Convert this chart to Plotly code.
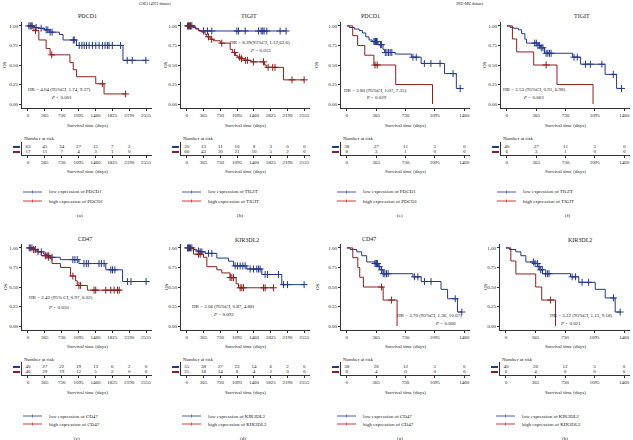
import plotly.graph_objects as go

W, H = 633, 440
FONT = "Liberation Serif"
BLUE = "#24388c"
RED = "#8e1e1e"
LEG_BLUE = "#4c5db0"
LEG_RED = "#d23a3a"
AXC = "#333333"

TIMES_GSE = [0, 365, 730, 1095, 1460, 1825, 2190, 2555]
TIMES_JNU = [0, 365, 730, 1095, 1460]

# (a) PDCD1 - GSE114922
A_LOW_T = [0, 143, 215, 358, 465, 680, 760, 1050, 2055]
A_LOW_S = [1.0, 0.98, 0.97, 0.95, 0.92, 0.89, 0.82, 0.75, 0.56]
A_LOW_C = [21, 50, 72, 93, 179, 286, 394, 430, 480, 523, 981, 1002, 1110, 1167, 1217, 1267,
           1324, 1396, 1467, 1539, 1611, 1668, 1718, 1754, 1825, 2004, 2147, 2255, 2550]
A_HIGH_T = [0, 130, 236, 394, 480, 909, 980, 1052, 1467, 1646]
A_HIGH_S = [1.0, 0.94, 0.82, 0.71, 0.63, 0.53, 0.44, 0.35, 0.26, 0.13]
A_HIGH_C = [165, 515, 1610, 2112]
A_RISK_LOW = [63, 45, 34, 27, 15, 7, 2, None]
A_RISK_HIGH = [17, 11, 7, 4, 3, 1, 0, None]

# (b) TIGIT - GSE114922
B_LOW_T = [0, 180, 260]
B_LOW_S = [1.0, 0.965, 0.935]
B_LOW_C = [15, 36, 58, 87, 109, 363, 450, 544, 1089, 1125, 1270, 1560, 1618, 1654, 1683, 1742, 2032, 2162]
B_HIGH_T = [0, 130, 203, 254, 327, 399, 435, 508, 580, 726, 943, 1000, 1060, 1110, 1170, 1250, 1400, 1690, 1730, 2104]
B_HIGH_S = [1.0, 0.98, 0.96, 0.94, 0.92, 0.89, 0.86, 0.83, 0.81, 0.78, 0.70, 0.66, 0.62, 0.60, 0.58, 0.56, 0.54, 0.50, 0.47, 0.31]
B_HIGH_C = [40, 80, 470, 540, 760, 1040, 1150, 1190, 1280, 1320, 1450, 1670, 1770, 1870, 1920, 2290, 2555]
B_RISK_LOW = [20, 13, 11, 10, 8, 3, 0, 0]
B_RISK_HIGH = [60, 43, 30, 21, 10, 5, 2, 0]

# (e) PDCD1 - JNU
E_LOW_T = [0, 32, 93, 154, 195, 235, 276, 316, 389, 450, 470, 600, 803, 925, 1216, 1363]
E_LOW_S = [1.0, 0.98, 0.96, 0.94, 0.91, 0.86, 0.82, 0.80, 0.76, 0.70, 0.66, 0.64, 0.60, 0.52, 0.39, 0.20]
E_LOW_C = [337, 349, 357, 369, 377, 418, 430, 478, 499, 519, 539, 560, 823, 864, 965, 1046, 1160, 1322, 1411]
E_HIGH_T = [0, 73, 134, 223, 337, 608, 1066]
E_HIGH_S = [1.0, 0.875, 0.75, 0.625, 0.5, 0.25, 0.0]
E_HIGH_C = [350, 377]
E_RISK_LOW = [38, 27, 11, 5, 0]
E_RISK_HIGH = [8, 3, 1, 0, 0]

# (f) TIGIT - JNU
F_LOW_T = [0, 41, 82, 143, 184, 224, 245, 387, 420, 469, 816, 918, 1223, 1366]
F_LOW_S = [1.0, 0.98, 0.97, 0.95, 0.90, 0.83, 0.78, 0.75, 0.72, 0.65, 0.60, 0.51, 0.38, 0.20]
F_LOW_C = [347, 367, 387, 408, 428, 449, 489, 510, 530, 551, 836, 877, 979, 1040, 1183, 1325, 1427]
F_HIGH_T = [0, 69, 122, 334, 624, 1073]
F_HIGH_S = [1.0, 0.833, 0.667, 0.5, 0.25, 0.0]
F_HIGH_C = [489]
F_RISK_LOW = [40, 27, 11, 5, 0]
F_RISK_HIGH = [6, 3, 1, 0, 0]

# (c) CD47 - GSE114922
C_LOW_T = [0, 145, 210, 340, 440, 700, 1103, 1684, 2046]
C_LOW_S = [1.0, 0.97, 0.95, 0.92, 0.88, 0.85, 0.80, 0.72, 0.57]
C_LOW_C = [29, 51, 87, 218, 290, 450, 522, 972, 1016, 1067, 1212, 1263, 1306, 1538, 1589, 1647,
           1792, 1829, 1880, 2155, 2228, 2555]
C_HIGH_T = [0, 87, 218, 290, 486, 522, 704, 922, 1030, 1067, 1285]
C_HIGH_S = [1.0, 0.98, 0.95, 0.90, 0.86, 0.80, 0.75, 0.64, 0.58, 0.52, 0.46]
C_HIGH_C = [123, 160, 377, 414, 450, 972, 1103, 1139, 1430, 1466, 1684, 1792, 1865, 1938, 1974]
C_RISK_LOW = [40, 27, 22, 19, 13, 6, 2, 0]
C_RISK_HIGH = [40, 29, 19, 12, 5, 2, 0, 0]

# (d) KIR3DL2 - GSE114922
D_LOW_T = [0, 145, 218, 290, 399, 653, 907, 1016, 1306, 1633, 2068]
D_LOW_S = [1.0, 0.98, 0.96, 0.95, 0.93, 0.87, 0.83, 0.77, 0.73, 0.66, 0.53]
D_LOW_C = [15, 36, 58, 80, 109, 254, 290, 327, 472, 544, 1052, 1103, 1161, 1219, 1270, 1379, 1451,
           1524, 1560, 1597, 1705, 1756, 1996, 2104, 2192, 2555]
D_HIGH_T = [0, 145, 363, 435, 653, 762, 943, 1074, 1125]
D_HIGH_S = [1.0, 0.92, 0.88, 0.76, 0.72, 0.68, 0.62, 0.54, 0.49]
D_HIGH_C = [254, 290, 943, 980, 1016, 1161, 1197, 1234, 1669, 1705, 1887]
D_RISK_LOW = [55, 38, 27, 23, 14, 6, 2, 0]
D_RISK_HIGH = [25, 18, 14, 8, 4, 2, 0, 0]

# (g) CD47 - JNU
G_LOW_T = [0, 41, 123, 185, 247, 350, 391, 411, 452, 822, 925, 1172, 1254, 1377]
G_LOW_S = [1.0, 0.98, 0.95, 0.90, 0.82, 0.80, 0.76, 0.72, 0.67, 0.63, 0.57, 0.47, 0.35, 0.18]
G_LOW_C = [350, 362, 370, 382, 403, 432, 452, 473, 493, 514, 843, 884, 966, 1048, 1349, 1431]
G_HIGH_T = [0, 74, 136, 160, 206, 452, 625]
G_HIGH_S = [1.0, 0.875, 0.75, 0.625, 0.5, 0.333, 0.0]
G_HIGH_C = [432, 555]
G_RISK_LOW = [38, 26, 12, 5, 0]
G_RISK_HIGH = [8, 4, 0, 0, 0]

# (h) KIR3DL2 - JNU
H_LOW_T = [0, 41, 123, 185, 247, 350, 391, 411, 452, 798, 900, 1104, 1227, 1350]
H_LOW_S = [1.0, 0.98, 0.95, 0.90, 0.82, 0.80, 0.76, 0.72, 0.67, 0.63, 0.56, 0.47, 0.36, 0.18]
H_LOW_C = [339, 360, 389, 409, 430, 450, 491, 512, 532, 818, 859, 941, 1022, 1329, 1411]
H_HIGH_T = [0, 61, 123, 368, 442, 613]
H_HIGH_S = [1.0, 0.833, 0.667, 0.5, 0.333, 0.0]
H_HIGH_C = [552]
H_RISK_LOW = [40, 26, 12, 5, 0]
H_RISK_HIGH = [6, 4, 0, 0, 0]

GENES = {"a": "PDCD1", "b": "TIGIT", "e": "PDCD1", "f": "TIGIT",
         "c": "CD47", "d": "KIR3DL2", "g": "CD47", "h": "KIR3DL2"}
HR_TEXT = {
    "a": ("HR = 4.04 (95%CI, 1.74, 9.37)", "<i>P</i> < 0.001"),
    "b": ("HR = 8.39(95%CI, 1.12,62.6)", "<i>P</i> = 0.013"),
    "e": ("HR = 2.80 (95%CI, 1.07, 7.35)", "P = 0.029"),
    "f": ("HR = 2.53 (95%CI, 0.91, 6.98)", "<i>P</i> = 0.063"),
    "c": ("HR = 2.42 (95% CI, 0.97, 6.02)", "<i>P</i> = 0.050"),
    "d": ("HR = 2.06 (95%CI, 0.87, 4.88)", "<i>P</i> = 0.092"),
    "g": ("HR = 3.70 (95%CI, 1.36, 10.07)", "<i>P</i> = 0.006"),
    "h": ("HR = 3.22 (95%CI, 1.13, 9.18)", "<i>P</i> = 0.021"),
}
DATA = {
    "a": (A_LOW_T, A_LOW_S, A_LOW_C, A_HIGH_T, A_HIGH_S, A_HIGH_C, A_RISK_LOW, A_RISK_HIGH, TIMES_GSE),
    "b": (B_LOW_T, B_LOW_S, B_LOW_C, B_HIGH_T, B_HIGH_S, B_HIGH_C, B_RISK_LOW, B_RISK_HIGH, TIMES_GSE),
    "e": (E_LOW_T, E_LOW_S, E_LOW_C, E_HIGH_T, E_HIGH_S, E_HIGH_C, E_RISK_LOW, E_RISK_HIGH, TIMES_JNU),
    "f": (F_LOW_T, F_LOW_S, F_LOW_C, F_HIGH_T, F_HIGH_S, F_HIGH_C, F_RISK_LOW, F_RISK_HIGH, TIMES_JNU),
    "c": (C_LOW_T, C_LOW_S, C_LOW_C, C_HIGH_T, C_HIGH_S, C_HIGH_C, C_RISK_LOW, C_RISK_HIGH, TIMES_GSE),
    "d": (D_LOW_T, D_LOW_S, D_LOW_C, D_HIGH_T, D_HIGH_S, D_HIGH_C, D_RISK_LOW, D_RISK_HIGH, TIMES_GSE),
    "g": (G_LOW_T, G_LOW_S, G_LOW_C, G_HIGH_T, G_HIGH_S, G_HIGH_C, G_RISK_LOW, G_RISK_HIGH, TIMES_JNU),
    "h": (H_LOW_T, H_LOW_S, H_LOW_C, H_HIGH_T, H_HIGH_S, H_HIGH_C, H_RISK_LOW, H_RISK_HIGH, TIMES_JNU),
}

# ---------- layout geometry (pixels) ----------
GEOM = {
    "a": dict(x0=22, x1=152, row=0, title=(87, 16), hr=(60, 90), p=(61, 97), lab=(80, 215), osx=5),
    "b": dict(x0=181, x1=310, row=0, title=(249, 16), hr=(260, 43), p=(260, 50), lab=(240, 215), osx=166),
    "e": dict(x0=341, x1=470, row=0, title=(370, 16), hr=(376, 91), p=(377, 98), lab=(400, 215), osx=317),
    "f": dict(x0=501, x1=630, row=0, title=(582, 16), hr=(534, 90), p=(533, 98), lab=(567, 215), osx=485),
    "c": dict(x0=22, x1=152, row=1, title=(85, 239), hr=(61, 298), p=(58, 307), lab=(77, 438), osx=5),
    "d": dict(x0=181, x1=310, row=1, title=(247, 240), hr=(223, 307), p=(223, 314), lab=(243, 438), osx=166),
    "g": dict(x0=341, x1=470, row=1, title=(369, 239), hr=(430, 316), p=(445, 323), lab=(400, 438), osx=317),
    "h": dict(x0=500, x1=630, row=1, title=(580, 240), hr=(581, 316), p=(570, 323), lab=(565, 438), osx=485),
}
ROWS = [
    dict(km=(22, 108), risk=(142, 155), st1=125, nar=138, st2=172, leg=(192, 201)),
    dict(km=(244, 330), risk=(362, 375), st1=346, nar=359, st2=392, leg=(416, 424)),
]


def fx(x):
    return x / W


def fy(y):
    return 1 - y / H


def step_at(ts, ss, t):
    val = ss[0]
    for ti, si in zip(ts, ss):
        if ti <= t:
            val = si
    return val


fig = go.Figure()
layout = dict(width=W, height=H, margin=dict(l=0, r=0, t=0, b=0),
              paper_bgcolor="white", plot_bgcolor="white", showlegend=False)
annotations = []
shapes = []


def ann(x, y, text, size=5, xanchor="center", angle=0, color="#1a1a1a"):
    annotations.append(dict(x=fx(x), y=fy(y), xref="paper", yref="paper", text=text,
                            showarrow=False, xanchor=xanchor, yanchor="middle", textangle=angle,
                            font=dict(family=FONT, size=size, color=color)))


axis_common = dict(showline=True, linecolor=AXC, linewidth=0.8, ticks="outside", ticklen=2,
                   tickwidth=0.7, tickcolor=AXC, showgrid=False, zeroline=False,
                   tickfont=dict(family=FONT, size=5, color="#1a1a1a"))

for i, key in enumerate(["a", "b", "e", "f", "c", "d", "g", "h"]):
    g = GEOM[key]
    r = ROWS[g["row"]]
    lt, ls, lc, ht, hs, hc, rl, rh, times = DATA[key]
    xmax = times[-1]
    pad = 0.05 * xmax
    xr = [-pad, xmax + pad]
    n1 = 2 * i + 1
    n2 = 2 * i + 2
    xa1, ya1 = f"xaxis{n1}", f"yaxis{n1}"
    xa2, ya2 = f"xaxis{n2}", f"yaxis{n2}"
    tlabels = [str(t) for t in times]
    layout[xa1] = dict(axis_common, domain=[fx(g["x0"]), fx(g["x1"])], range=xr,
                       tickvals=times, ticktext=tlabels, anchor=f"y{n1}")
    layout[ya1] = dict(axis_common, domain=[fy(r["km"][1]), fy(r["km"][0])], range=[-0.05, 1.05],
                       tickvals=[0, 0.25, 0.5, 0.75, 1.0],
                       ticktext=["0.00", "0.25", "0.50", "0.75", "1.00"], anchor=f"x{n1}")
    layout[xa2] = dict(axis_common, domain=[fx(g["x0"]), fx(g["x1"])], range=xr,
                       tickvals=times, ticktext=tlabels, anchor=f"y{n2}")
    layout[ya2] = dict(showline=True, linecolor=AXC, linewidth=0.8, showgrid=False, zeroline=False,
                       showticklabels=False, ticks="", domain=[fy(r["risk"][1]), fy(r["risk"][0])],
                       range=[-0.6, 2.0], anchor=f"x{n2}")

    for ts, ss, cs, col in [(lt, ls, lc, BLUE), (ht, hs, hc, RED)]:
        xs = list(ts)
        ys = list(ss)
        end = max(cs) if cs else ts[-1]
        if end > ts[-1]:
            xs.append(end)
            ys.append(ss[-1])
        fig.add_trace(go.Scatter(x=xs, y=ys, mode="lines", line=dict(color=col, width=1, shape="hv"),
                                 xaxis=f"x{n1}", yaxis=f"y{n1}", hoverinfo="skip"))
        fig.add_trace(go.Scatter(x=cs, y=[step_at(ts, ss, c) for c in cs], mode="markers",
                                 marker=dict(symbol="cross-thin", size=5,
                                             line=dict(color=col, width=1)),
                                 xaxis=f"x{n1}", yaxis=f"y{n1}", hoverinfo="skip"))

    for vals, yv in [(rl, 1), (rh, 0)]:
        xs = [t for t, v in zip(times, vals) if v is not None]
        tx = [str(v) for v in vals if v is not None]
        fig.add_trace(go.Scatter(x=xs, y=[yv] * len(xs), mode="text", text=tx,
                                 textfont=dict(family=FONT, size=5, color="#1a1a1a"),
                                 xaxis=f"x{n2}", yaxis=f"y{n2}", hoverinfo="skip"))

    # texts
    ann(g["title"][0], g["title"][1], GENES[key], size=6)
    hr, pv = HR_TEXT[key]
    ann(g["hr"][0], g["hr"][1], hr)
    ann(g["p"][0], g["p"][1], pv)
    cx = (g["x0"] + g["x1"]) / 2
    ann(cx, r["st1"], "Survival time (days)")
    ann(cx, r["st2"], "Survival time (days)")
    ann(g["x0"], r["nar"], "Number at risk", xanchor="left")
    ann(g["osx"], (r["km"][0] + r["km"][1]) / 2, "OS", angle=-90)
    ann(g["lab"][0], g["lab"][1], f"({key})")

    # risk table colour keys
    rt, rb = r["risk"]
    for yy, col in [(rb - 8, BLUE), (rb - 3, RED)]:
        shapes.append(dict(type="line", xref="paper", yref="paper", x0=fx(g["x0"] - 9), x1=fx(g["x0"] - 2),
                           y0=fy(yy), y1=fy(yy), line=dict(color=col, width=2)))

    # legend
    lx0 = g["x0"] + 1 if g["x0"] < 200 else g["x0"] - 4
    lx1 = lx0 + 19
    for yy, col, word in [(r["leg"][0], LEG_BLUE, "low"), (r["leg"][1], LEG_RED, "high")]:
        shapes.append(dict(type="line", xref="paper", yref="paper", x0=fx(lx0), x1=fx(lx1),
                           y0=fy(yy), y1=fy(yy), line=dict(color=col, width=1)))
        mx = (lx0 + lx1) / 2
        shapes.append(dict(type="line", xref="paper", yref="paper", x0=fx(mx), x1=fx(mx),
                           y0=fy(yy - 1.5), y1=fy(yy + 1.5), line=dict(color=col, width=0.8)))
        ann(lx1 + 5, yy, f"{word} expression of {GENES[key]}", xanchor="left")

ann(155, 4, "GSE114922 dataset", size=4)
ann(470, 4, "JNU-MU dataset", size=4)

layout["annotations"] = annotations
layout["shapes"] = shapes
fig.update_layout(**layout)
fig.write_html("out.html", config={"displayModeBar": False},
               post_script="document.body.style.margin='0';document.body.style.padding='0';")
